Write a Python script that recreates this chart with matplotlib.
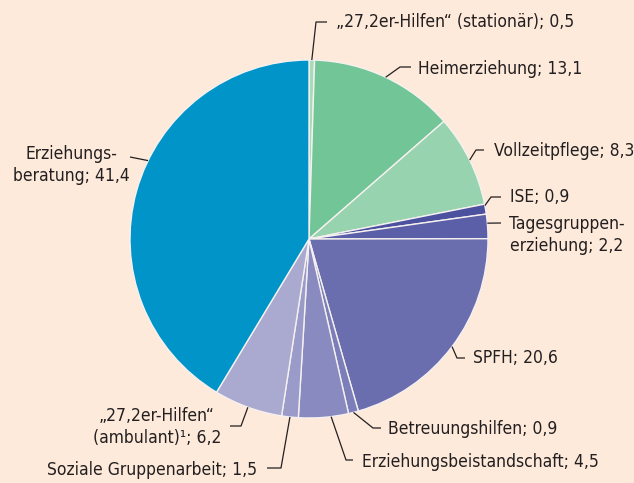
import numpy as np
import matplotlib.pyplot as plt

W, H = 634, 483
BG = '#fdeadb'
INK = '#231f20'

# data, shares in percent, clockwise from the top
labels = ['„27,2er-Hilfen“ (stationär); 0,5', 'Heimerziehung; 13,1', 'Vollzeitpflege; 8,3',
          'ISE; 0,9', 'Tagesgruppen-\nerziehung; 2,2', 'SPFH; 20,6', 'Betreuungshilfen; 0,9',
          'Erziehungsbeistandschaft; 4,5', 'Soziale Gruppenarbeit; 1,5',
          '„27,2er-Hilfen“\n(ambulant)¹; 6,2', 'Erziehungs-\nberatung; 41,4']
values = [0.5, 13.1, 8.3, 0.9, 2.2, 20.6, 0.9, 4.5, 1.5, 6.2, 41.4]
colors = ['#a9dbb8', '#72c596', '#97d3ae', '#4b519f', '#5a5fa7', '#6a6eaf',
          '#7b7eb8', '#888ac0', '#9a9bc9', '#aaaad1', '#0094c8']

# label layout in pixels: (fraction along wedge, leader points, text pos, ha)
layout = [
    (0.5, [(316, 22), (327, 22)], (336, 22), 'left'),
    (0.5, [(400, 67), (411, 67)], (418, 69), 'left'),
    (0.5, [(476, 150), (484, 150)], (494, 151), 'left'),
    (0.85, [(491, 197), (501, 197)], (510, 197), 'left'),
    (0.63, [(501, 223)], (567, 235), 'center'),
    (0.5, [(457, 358), (465, 358)], (473, 358), 'left'),
    (0.5, [(373, 428), (381, 428)], (388, 429), 'left'),
    (0.65, [(346, 460), (353, 460)], (362, 462), 'left'),
    (0.5, [(281, 468), (267, 468)], (257, 470), 'right'),
    (0.5, [(241, 426), (230, 426)], (157, 427), 'center'),
    (0.43, [(130, 157)], (71, 165), 'center'),
]

plt.rcParams['font.family'] = ['DejaVu Sans']
plt.rcParams['font.stretch'] = 'condensed'

fig = plt.figure(figsize=(W / 100, H / 100), dpi=100, facecolor=BG)
ax = fig.add_axes([0, 0, 1, 1])
ax.set_facecolor(BG)

cx, cy, R = 309, H - 239, 179
wedges, _ = ax.pie(values, colors=colors, startangle=90, counterclock=False,
                   center=(cx, cy), radius=R,
                   wedgeprops=dict(edgecolor='#f6f1f0', linewidth=1))

for w, lab, (frac, pts, tpos, ha) in zip(wedges, labels, layout):
    ang = np.deg2rad(w.theta1 + frac * (w.theta2 - w.theta1))
    xs = [cx + R * np.cos(ang)] + [p[0] for p in pts]
    ys = [cy + R * np.sin(ang)] + [H - p[1] for p in pts]
    ax.plot(xs, ys, color=INK, lw=0.9, solid_capstyle='butt')
    ax.text(tpos[0], H - tpos[1], lab, ha=ha, va='center', multialignment='center',
            fontsize=12.5, color=INK, linespacing=1.3)

# cut-off subtitle at the very top
ax.text(246, H + 8, '2008, Angaben in %)', ha='right', va='baseline',
        fontsize=12.5, color=INK, clip_on=False)

ax.set_xlim(0, W)
ax.set_ylim(0, H)
ax.set_aspect('equal')
ax.axis('off')

fig.savefig('out.png', dpi=100, facecolor=BG)
